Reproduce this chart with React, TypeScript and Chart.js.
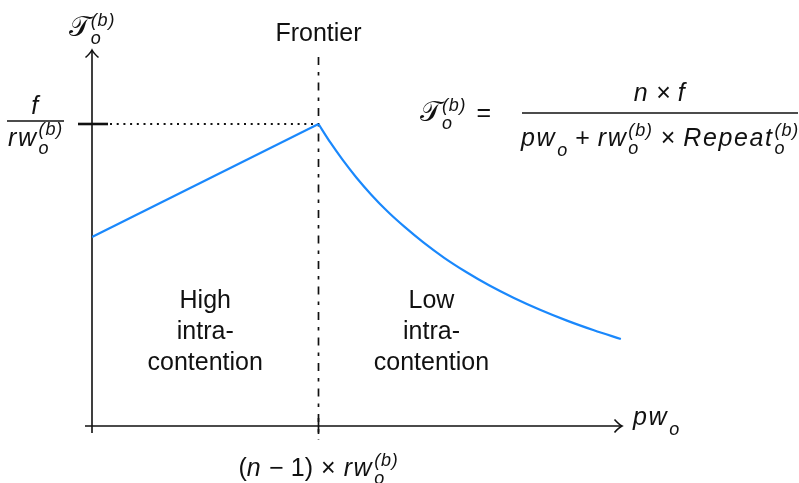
import React, { useEffect, useRef } from "react";
import { Chart, registerables } from "chart.js";

Chart.register(...registerables);

// ---- data (abstract units: frontier x = 1, peak f/rw = 1) ----
const FRONTIER_X = 1;
const PEAK_Y = 1;
const X_MAX = 2.34;
const Y_MAX = 1.245;

const highX = [0, 1];
const highY = [0.626, 1];
const lowX = [1, 1.053, 1.106, 1.167, 1.233, 1.304, 1.379, 1.463, 1.555, 1.652, 1.753, 1.863, 1.978, 2.097, 2.216, 2.335];
const lowY = [1, 0.938, 0.882, 0.823, 0.766, 0.711, 0.66, 0.608, 0.557, 0.51, 0.466, 0.424, 0.385, 0.349, 0.317, 0.288];

const frontierLabel = "Frontier";
const highLabel = ["High", "intra-", "contention"];
const lowLabel = ["Low", "intra-", "contention"];

const BLUE = "#1a88fc";
const INK = "#111111";
const TEXT_FONT = '"Liberation Sans", Arial, sans-serif';
const SIZE = 25;

type Seg = { t: string; it?: boolean; cal?: boolean; sup?: string; sub?: string; pad?: number };

let calOK: boolean | null = null;
const CAL_T = "\u{1D4AF}";

function mainFont(seg: Seg, size: number) {
  if (seg.cal) {
    return calOK ? `${Math.round(size * 1.12)}px "DejaVu Sans", sans-serif` : `italic ${size + 2}px "Liberation Serif", serif`;
  }
  return `${seg.it ? "italic " : ""}${size}px ${TEXT_FONT}`;
}
function calText(seg: Seg) {
  return seg.cal ? (calOK ? CAL_T : "T") : seg.t;
}
function scriptFont(size: number) {
  return `italic ${Math.round(size * 0.72)}px ${TEXT_FONT}`;
}
function spacingFor(seg: Seg) {
  return seg.it ? "1.6px" : "0px";
}

function measure(ctx: CanvasRenderingContext2D, text: string, spacing: string) {
  (ctx as any).letterSpacing = spacing;
  const w = ctx.measureText(text).width;
  (ctx as any).letterSpacing = "0px";
  return w;
}

function segWidth(ctx: CanvasRenderingContext2D, seg: Seg, size: number) {
  ctx.font = mainFont(seg, size);
  let w = measure(ctx, calText(seg), spacingFor(seg)) + 2 * (seg.pad || 0);
  ctx.font = scriptFont(size);
  const ws = Math.max(seg.sup ? measure(ctx, seg.sup, "0.8px") : 0, seg.sub ? measure(ctx, seg.sub, "0px") : 0);
  return w + (ws ? ws + 1 : 0);
}

function richWidth(ctx: CanvasRenderingContext2D, segs: Seg[], size: number) {
  return segs.reduce((a, s) => a + segWidth(ctx, s, size), 0);
}

function drawRich(
  ctx: CanvasRenderingContext2D,
  segs: Seg[],
  x: number,
  baseline: number,
  align: "left" | "center",
  size = SIZE
) {
  const total = richWidth(ctx, segs, size);
  let cx = align === "center" ? x - total / 2 : x;
  ctx.save();
  ctx.fillStyle = INK;
  ctx.textAlign = "left";
  ctx.textBaseline = "alphabetic";
  for (const s of segs) {
    ctx.font = mainFont(s, size);
    cx += s.pad || 0;
    const txt = calText(s);
    (ctx as any).letterSpacing = spacingFor(s);
    ctx.fillText(txt, cx, baseline);
    cx += measure(ctx, txt, spacingFor(s)) + (s.pad || 0);
    if (s.sup || s.sub) {
      ctx.font = scriptFont(size);
      let ws = 0;
      const both = !!(s.sup && s.sub);
      if (s.sup) {
        (ctx as any).letterSpacing = "0.8px";
        ctx.fillText(s.sup, cx + 1, baseline - size * 0.42);
        ws = Math.max(ws, measure(ctx, s.sup, "0.8px"));
      }
      if (s.sub) {
        (ctx as any).letterSpacing = "0px";
        ctx.fillText(s.sub, cx + 1, baseline + size * (both ? 0.32 : 0.38));
        ws = Math.max(ws, measure(ctx, s.sub, "0px"));
      }
      cx += ws + 1;
    }
    (ctx as any).letterSpacing = "0px";
  }
  ctx.restore();
  return total;
}

const yAxisLabel: Seg[] = [{ t: "T", cal: true, sub: "o", sup: "(b)" }];
const yTickNum: Seg[] = [{ t: "f", it: true }];
const yTickDen: Seg[] = [{ t: "rw", it: true, sub: "o", sup: "(b)" }];
const xAxisLabel: Seg[] = [{ t: "pw", it: true, sub: "o" }];
const xTickLabel: Seg[] = [
  { t: "(" },
  { t: "n", it: true },
  { t: "\u2212", pad: 7 },
  { t: "1)" },
  { t: "\u00D7", pad: 8 },
  { t: "rw", it: true, sub: "o", sup: "(b)" },
];
const eqLhs: Seg[] = [{ t: "T", cal: true, sub: "o", sup: "(b)" }, { t: "=", pad: 10 }];
const eqNum: Seg[] = [{ t: "n", it: true }, { t: "\u00D7", pad: 7 }, { t: "f", it: true }];
const eqDen: Seg[] = [
  { t: "pw", it: true, sub: "o" },
  { t: "+", pad: 8 },
  { t: "rw", it: true, sub: "o", sup: "(b)" },
  { t: "\u00D7", pad: 8 },
  { t: "Repeat", it: true, sub: "o", sup: "(b)" },
];

function arrowHead(ctx: CanvasRenderingContext2D, tx: number, ty: number, dir: "up" | "right") {
  ctx.beginPath();
  if (dir === "up") {
    ctx.moveTo(tx - 6.5, ty + 7.5);
    ctx.quadraticCurveTo(tx - 1.5, ty + 3, tx, ty);
    ctx.quadraticCurveTo(tx + 1.5, ty + 3, tx + 6.5, ty + 7.5);
  } else {
    ctx.moveTo(tx - 7.5, ty - 6.5);
    ctx.quadraticCurveTo(tx - 3, ty - 1.5, tx, ty);
    ctx.quadraticCurveTo(tx - 3, ty + 1.5, tx - 7.5, ty + 6.5);
  }
  ctx.stroke();
}

const diagramPlugin = {
  id: "diagram",
  beforeDatasetsDraw(chart: any) {
    const ctx: CanvasRenderingContext2D = chart.ctx;
    const xs = chart.scales.x;
    const ys = chart.scales.y;
    const x0 = xs.getPixelForValue(0);
    const y0 = ys.getPixelForValue(0);
    const xEnd = xs.getPixelForValue(X_MAX);
    const yEnd = ys.getPixelForValue(Y_MAX);
    const fx = xs.getPixelForValue(FRONTIER_X);
    const py = ys.getPixelForValue(PEAK_Y);
    ctx.save();
    ctx.strokeStyle = INK;
    ctx.lineCap = "butt";
    // frontier dash-dot line
    ctx.lineWidth = 1.7;
    ctx.setLineDash([8, 7, 3.5, 7]);
    ctx.beginPath();
    ctx.moveTo(fx, yEnd + 7);
    ctx.lineTo(fx, y0 + 14);
    ctx.stroke();
    // dotted line to peak
    ctx.setLineDash([2, 4.7]);
    ctx.lineWidth = 1.8;
    ctx.beginPath();
    ctx.moveTo(x0 + 18, py);
    ctx.lineTo(fx - 2, py);
    ctx.stroke();
    ctx.setLineDash([]);
    // axes
    ctx.lineWidth = 1.6;
    ctx.beginPath();
    ctx.moveTo(x0, y0 + 7);
    ctx.lineTo(x0, yEnd);
    ctx.moveTo(x0 - 7, y0);
    ctx.lineTo(xEnd, y0);
    ctx.stroke();
    arrowHead(ctx, x0, yEnd, "up");
    arrowHead(ctx, xEnd, y0, "right");
    // ticks
    ctx.lineWidth = 1.7;
    ctx.beginPath();
    ctx.moveTo(fx, y0 - 8);
    ctx.lineTo(fx, y0 + 8);
    ctx.stroke();
    ctx.lineWidth = 2.6;
    ctx.beginPath();
    ctx.moveTo(x0 - 14, py);
    ctx.lineTo(x0 + 16, py);
    ctx.stroke();
    ctx.restore();
  },
  afterDraw(chart: any) {
    const ctx: CanvasRenderingContext2D = chart.ctx;
    if (calOK === null) {
      ctx.font = `${SIZE}px "DejaVu Sans", sans-serif`;
      calOK = ctx.measureText(CAL_T).width !== ctx.measureText("\u{10FFFD}").width;
    }
    const xs = chart.scales.x;
    const ys = chart.scales.y;
    const x0 = xs.getPixelForValue(0);
    const y0 = ys.getPixelForValue(0);
    const yEnd = ys.getPixelForValue(Y_MAX);
    const fx = xs.getPixelForValue(FRONTIER_X);
    const py = ys.getPixelForValue(PEAK_Y);
    const xEnd = xs.getPixelForValue(X_MAX);

    // y axis label
    drawRich(ctx, yAxisLabel, x0, yEnd - 14, "center");
    // frontier label
    ctx.save();
    ctx.fillStyle = INK;
    ctx.font = `${SIZE}px ${TEXT_FONT}`;
    ctx.textAlign = "center";
    ctx.fillText(frontierLabel, fx, yEnd - 9);
    // region labels
    highLabel.forEach((l, i) => ctx.fillText(l, (x0 + fx) / 2, 308 + i * 31));
    lowLabel.forEach((l, i) => ctx.fillText(l, fx + 113, 308 + i * 31));
    ctx.restore();

    // y tick label fraction
    const fcx = 35.5;
    const barY = py - 3;
    drawRich(ctx, yTickNum, fcx, barY - 7, "center");
    drawRich(ctx, yTickDen, fcx, barY + 25, "center");
    ctx.save();
    ctx.strokeStyle = INK;
    ctx.lineWidth = 1.3;
    ctx.beginPath();
    ctx.moveTo(7, barY);
    ctx.lineTo(64, barY);
    ctx.stroke();
    ctx.restore();

    // x axis label and tick label
    drawRich(ctx, xAxisLabel, xEnd + 11, y0 - 1, "left");
    drawRich(ctx, xTickLabel, fx, y0 + 50, "center");

    // equation
    const eqBar = 113;
    drawRich(ctx, eqLhs, 420, eqBar + 8, "left");
    const bx0 = 522;
    const bx1 = 798;
    const bc = (bx0 + bx1) / 2;
    drawRich(ctx, eqNum, bc, eqBar - 12, "center");
    drawRich(ctx, eqDen, bc, eqBar + 33, "center");
    ctx.save();
    ctx.strokeStyle = INK;
    ctx.lineWidth = 1.3;
    ctx.beginPath();
    ctx.moveTo(bx0, eqBar);
    ctx.lineTo(bx1, eqBar);
    ctx.stroke();
    ctx.restore();
  },
};

export default function App() {
  const ref = useRef<HTMLCanvasElement | null>(null);
  useEffect(() => {
    if (!ref.current) return;
    const chart = new Chart(ref.current, {
      type: "scatter",
      data: {
        datasets: [
          {
            data: highX.map((x, i) => ({ x, y: highY[i] })),
            showLine: true,
            borderColor: BLUE,
            borderWidth: 2.2,
            pointRadius: 0,
            tension: 0,
          },
          {
            data: lowX.map((x, i) => ({ x, y: lowY[i] })),
            showLine: true,
            borderColor: BLUE,
            borderWidth: 2.2,
            pointRadius: 0,
            cubicInterpolationMode: "monotone",
          },
        ],
      },
      options: {
        responsive: false,
        animation: false,
        layout: { padding: { left: 92, right: 799 - 622, top: 50, bottom: 483 - 426 } },
        scales: {
          x: { type: "linear", min: 0, max: X_MAX, display: false },
          y: { type: "linear", min: 0, max: Y_MAX, display: false },
        },
        plugins: { legend: { display: false }, tooltip: { enabled: false } },
      },
      plugins: [diagramPlugin],
    } as any);
    return () => chart.destroy();
  }, []);
  return (
    <div style={{ position: "absolute", left: 0, top: 0, width: 799, height: 483, background: "#fff" }}>
      <canvas ref={ref} width={799} height={483} style={{ display: "block", width: 799, height: 483 }} />
    </div>
  );
}
